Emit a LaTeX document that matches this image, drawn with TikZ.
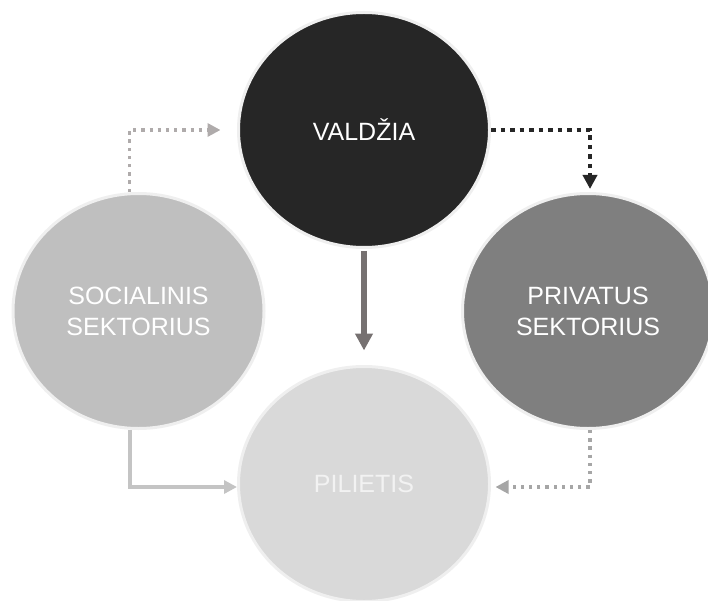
\documentclass[tikz,border=0pt]{standalone}
\usepackage{fontspec}
\setmainfont{Liberation Sans}
\usetikzlibrary{arrows.meta,shapes.geometric}
\definecolor{valdc}{HTML}{262626}
\definecolor{socc}{HTML}{BFBFBF}
\definecolor{privc}{HTML}{7F7F7F}
\definecolor{pilc}{HTML}{D9D9D9}
\definecolor{rimc}{HTML}{EFEFEF}
\definecolor{midc}{HTML}{767171}
\definecolor{dotc}{HTML}{AFABAB}
\definecolor{lowc}{HTML}{C4C4C4}
\definecolor{rdotc}{HTML}{A6A6A6}

\begin{document}
\begin{tikzpicture}[
  x=1pt,y=-1pt,
  blob/.style={ellipse,draw=rimc,line width=3pt,minimum width=251pt,minimum height=235pt,
    inner sep=0pt,align=center,text=white,font=\fontsize{25}{31}\selectfont},
  arr/.style={-{Triangle[length=13pt,width=13pt]}},
  dots/.style={arr,dash pattern=on 3.3pt off 4.9pt,line width=3.3pt}
]
\useasboundingbox (0,0) rectangle (708,601);
\node[blob,fill=valdc] (v) at (364,130) {VALDŽIA};
\node[blob,fill=socc] (s) at (138.5,311) {SOCIALINIS\\SEKTORIUS};
\node[blob,fill=privc] (r) at (588,311) {PRIVATUS\\SEKTORIUS};
\node[blob,fill=pilc,text=white!95!black] (p) at (364,484) {PILIETIS};
% connectors
\draw[dots,draw=dotc,shorten >=16.5pt] ([xshift=-9pt]s.north) |- (v.west);
\draw[draw=valdc,line width=4.5pt,dash pattern=on 4.5pt off 5pt,
  -{Triangle[length=14pt,width=14pt]},shorten >=3pt] (v.east) -| ([xshift=2pt]r.north);
\draw[draw=midc,line width=5.5pt,-{Triangle[length=17pt,width=17pt]},
  shorten <=2pt,shorten >=14.5pt] (v.south) -- (p.north);
\draw[arr,draw=lowc,line width=4pt] ([xshift=-9pt]s.south) |- ([yshift=-3pt]p.west);
\draw[dots,draw=rdotc,shorten >=4.5pt] ([xshift=2pt]r.south) |- ([yshift=-3pt]p.east);
\end{tikzpicture}
\end{document}
